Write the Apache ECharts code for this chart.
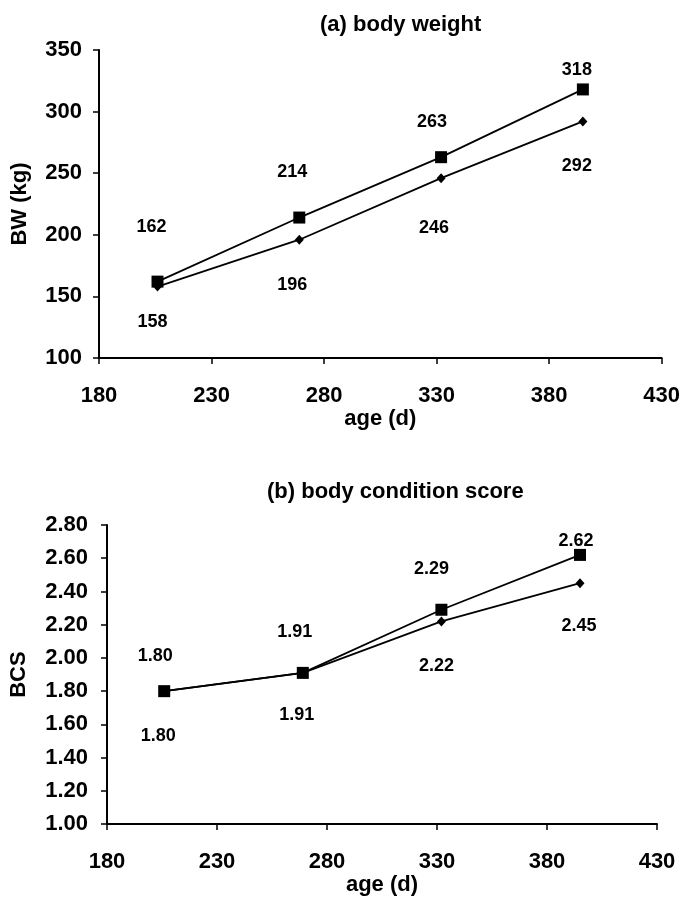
<!DOCTYPE html>
<html>
<head>
<meta charset="utf-8">
<script src="https://cdn.jsdelivr.net/npm/echarts@6/dist/echarts.min.js"></script>
<style>
  html, body { margin: 0; padding: 0; background: #fff; }
  #chart { width: 683px; height: 897px; }
</style>
</head>
<body>
<div id="chart"></div>
<script>
// values
const ages = [206, 269, 332, 395]
const bwSquare = [162, 214, 263, 318]
const bwDiamond = [158, 196, 246, 292]
const bcsSquare = [1.80, 1.91, 2.29, 2.62]
const bcsDiamond = [1.80, 1.91, 2.22, 2.45]

// tick labels
const ageTicks = [180, 230, 280, 330, 380, 430]
const bwTicks = [100, 150, 200, 250, 300, 350]
const bcsTicks = [1.00, 1.20, 1.40, 1.60, 1.80, 2.00, 2.20, 2.40, 2.60, 2.80]

// where each value label sits relative to its marker (px)
const bwSquareShift = [[-6, -55], [-7, -46], [-9, -35], [-6, -19]]
const bwDiamondShift = [[-5, 35], [-7, 45], [-7, 50], [-6, 45]]
const bcsSquareShift = [[-9, -35], [-8, -41], [-10, -41], [-4, -14]]
const bcsDiamondShift = [[-6, 45], [-6, 42], [-5, 45], [-1, 43]]

const font = "'Liberation Sans', Arial, sans-serif"
const step = (t) => Math.round((t[1] - t[0]) * 100) / 100

const buildData = (ys, shifts) =>
  ys.map((y, i) => ({ value: [ages[i], y], label: { offset: shifts[i] } }))

const xAxisFor = (gridIndex, gap) => ({
  type: 'value',
  gridIndex,
  min: ageTicks[0],
  max: ageTicks[ageTicks.length - 1],
  interval: step(ageTicks),
  name: 'age (d)',
  nameLocation: 'middle',
  nameGap: gap,
  nameTextStyle: { fontFamily: font, fontWeight: 'bold', fontSize: 22, color: '#000' },
  axisLine: { lineStyle: { color: '#000', width: 2 } },
  axisTick: { length: 6, lineStyle: { color: '#000', width: 1.5 } },
  axisLabel: { margin: 27, fontFamily: font, fontWeight: 'bold', fontSize: 22, color: '#000', showMinLabel: true, showMaxLabel: true },
  splitLine: { show: false }
})

const yAxisFor = (gridIndex, ticks, name, gap, margin, digits) => ({
  type: 'value',
  gridIndex,
  min: ticks[0],
  max: ticks[ticks.length - 1],
  interval: step(ticks),
  name,
  nameLocation: 'middle',
  nameGap: gap,
  nameTextStyle: { fontFamily: font, fontWeight: 'bold', fontSize: 22, color: '#000' },
  axisLine: { show: true, lineStyle: { color: '#000', width: 2 } },
  axisTick: { show: true, length: 6, lineStyle: { color: '#000', width: 1.5 } },
  axisLabel: {
    margin,
    fontFamily: font, fontWeight: 'bold', fontSize: 22, color: '#000',
    formatter: (v) => v.toFixed(digits)
  },
  splitLine: { show: false }
})

const lineSeries = (xi, data, symbol, size, digits) => ({
  type: 'line',
  xAxisIndex: xi,
  yAxisIndex: xi,
  data,
  symbol,
  symbolSize: size,
  lineStyle: { color: '#000', width: 1.8 },
  itemStyle: { color: '#000' },
  label: {
    show: true,
    position: 'inside',
    color: '#000',
    textBorderWidth: 0,
    fontFamily: font,
    fontWeight: 'bold',
    fontSize: 18,
    formatter: (p) => p.value[1].toFixed(digits)
  },
  emphasis: { disabled: true },
  animation: false
})

const chart = echarts.init(document.getElementById('chart'))
chart.setOption({
  backgroundColor: '#fff',
  title: [
    {
      text: '(a) body weight',
      left: 320, top: 14, padding: 0,
      textStyle: { fontFamily: font, fontWeight: 'bold', fontSize: 22, color: '#000' }
    },
    {
      text: '(b) body condition score',
      left: 267, top: 481, padding: 0,
      textStyle: { fontFamily: font, fontWeight: 'bold', fontSize: 22, color: '#000' }
    }
  ],
  grid: [
    { left: 99, right: 21, top: 50, height: 308 },
    { left: 106, right: 26, top: 525, height: 305 }
  ],
  xAxis: [xAxisFor(0, 43), xAxisFor(1, 43)],
  yAxis: [
    yAxisFor(0, bwTicks, 'BW (kg)', 68, 17, 0),
    yAxisFor(1, bcsTicks, 'BCS', 77, 19, 2)
  ],
  series: [
    lineSeries(0, buildData(bwDiamond, bwDiamondShift), 'diamond', [9, 10], 0),
    lineSeries(0, buildData(bwSquare, bwSquareShift), 'rect', 12, 0),
    lineSeries(1, buildData(bcsDiamond, bcsDiamondShift), 'diamond', [9, 10], 2),
    lineSeries(1, buildData(bcsSquare, bcsSquareShift), 'rect', 12, 2)
  ]
})
</script>
</body>
</html>
